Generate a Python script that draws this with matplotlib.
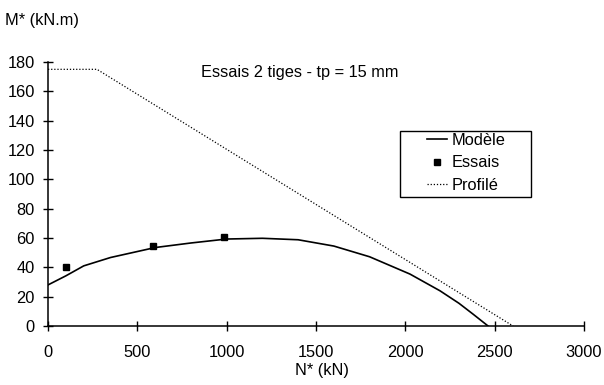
import matplotlib
matplotlib.use("Agg")
import matplotlib.pyplot as plt
from matplotlib.patches import Rectangle

plt.rcParams['font.family'] = ['Liberation Sans', 'DejaVu Sans']

# Modèle curve (N*, M*)
model_n = [0, 100, 200, 350, 600, 800, 1000, 1200, 1400, 1600, 1800, 2026, 2194, 2300, 2380, 2463]
model_m = [28, 34.2, 41, 46.7, 53.5, 56.6, 59.3, 59.8, 58.8, 54.5, 47.2, 35.4, 24, 15.5, 8, 0]

# Essais (test points)
essais_n = [99, 589, 985]
essais_m = [39.9, 54.3, 60.4]

# Profilé
profile_n = [0, 274, 2603]
profile_m = [175, 175, 0]

xticks = [0, 500, 1000, 1500, 2000, 2500, 3000]
yticks = [0, 20, 40, 60, 80, 100, 120, 140, 160, 180]

W, H = 604, 385
fig = plt.figure(figsize=(W / 100, H / 100), dpi=100)
ax = fig.add_axes([48/W, 59/H, 536/W, 264/H])

ax.plot(model_n, model_m, color='black', lw=1.2, label='Modèle')
ax.plot(essais_n, essais_m, ls='none', marker='s', ms=4, color='black', label='Essais')
ax.plot(profile_n, profile_m, color='black', lw=0.9, ls=(0, (1, 1.5)), label='Profilé')

ax.set_xlim(0, 3000)
ax.set_ylim(0, 180)
ax.set_xticks(xticks)
ax.set_yticks(yticks)
ax.tick_params(direction='inout', length=7, width=1, labelsize=11.8)
ax.tick_params(axis='x', pad=10)
ax.tick_params(axis='y', pad=6)
ax.spines['top'].set_visible(False)
ax.spines['right'].set_visible(False)
for s in ['left', 'bottom']:
    ax.spines[s].set_linewidth(1.1)

fig.text(5/W, 1 - 20/H, 'M* (kN.m)', fontsize=11.8, va='center', ha='left')
fig.text(322/W, 1 - 370/H, 'N* (kN)', fontsize=11.8, va='center', ha='center')
fig.text(300/W, 1 - 72/H, 'Essais 2 tiges - tp = 15 mm', fontsize=11.8, va='center', ha='center')

# legend box drawn separately, content placed inside it
fig.patches.append(Rectangle((400/W, 1 - 197/H), 131/W, 66/H, transform=fig.transFigure,
                             fill=False, edgecolor='black', lw=1.0))
leg = ax.legend(loc='upper left', bbox_to_anchor=(427/W, 1 - 133/H),
                bbox_transform=fig.transFigure, fontsize=11.8, frameon=False,
                handlelength=1.25, handletextpad=0.25, borderpad=0, borderaxespad=0,
                labelspacing=0.45)

fig.savefig('out.png', dpi=100)
